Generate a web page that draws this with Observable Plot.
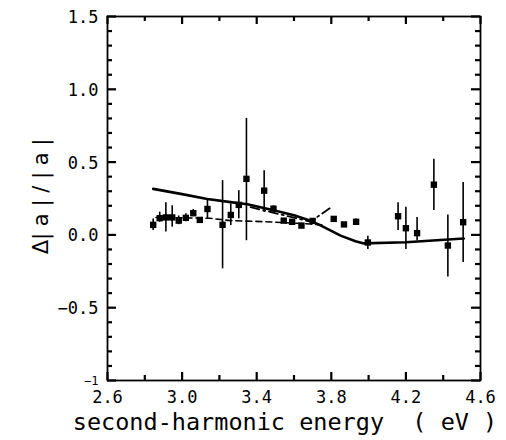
<!DOCTYPE html>
<html><head><meta charset="utf-8">
<script src="https://cdn.jsdelivr.net/npm/d3@7"></script>
<script src="https://cdn.jsdelivr.net/npm/@observablehq/plot@0.6"></script>
<style>body{margin:0;background:#fff} svg{display:block}</style>
</head><body><div id="chart"></div>
<script>
// Measured points with error bars
const energy  = [2.845, 2.88, 2.913, 2.947, 2.982, 3.02, 3.06, 3.095, 3.136, 3.217, 3.261, 3.304, 3.345, 3.44, 3.49, 3.545, 3.59, 3.64, 3.70, 3.813, 3.868, 3.933, 3.996, 4.158, 4.20, 4.26, 4.35, 4.425, 4.507];
const ratio   = [0.069, 0.115, 0.12, 0.12, 0.098, 0.117, 0.149, 0.103, 0.178, 0.069, 0.137, 0.206, 0.385, 0.304, 0.18, 0.098, 0.09, 0.064, 0.096, 0.11, 0.072, 0.09, -0.052, 0.128, 0.046, 0.012, 0.345, -0.073, 0.087];
const errLow  = [0.03, 0.087, 0.02, 0.053, 0.07, 0.09, 0.125, 0.085, 0.11, -0.233, 0.064, 0.11, -0.04, 0.156, 0.165, 0.085, 0.078, 0.052, 0.08, 0.098, 0.06, 0.065, -0.1, 0.03, -0.1, -0.04, 0.167, -0.29, -0.19];
const errHigh = [0.11, 0.156, 0.22, 0.20, 0.13, 0.145, 0.175, 0.12, 0.247, 0.373, 0.213, 0.304, 0.80, 0.44, 0.20, 0.11, 0.10, 0.076, 0.11, 0.122, 0.084, 0.11, -0.01, 0.22, 0.19, 0.12, 0.52, 0.137, 0.36];

// Model curves
const solidEnergy = [2.845, 3.0, 3.135, 3.26, 3.35, 3.49, 3.6, 3.688, 3.75, 3.85, 3.93, 3.97, 4.2, 4.51];
const solidRatio  = [0.316, 0.28, 0.247, 0.225, 0.21, 0.17, 0.135, 0.098, 0.06, -0.005, -0.043, -0.058, -0.05, -0.025];
const dashEnergy = [2.86, 3.15, 3.26, 3.44, 3.688, 3.76];
const dashRatio  = [0.12, 0.114, 0.098, 0.091, 0.075, 0.068];
const dashDotEnergy = [3.367, 3.688, 3.80];
const dashDotRatio  = [0.19, 0.091, 0.19];

// Axes
const xMajorTicks = [2.6, 3.0, 3.4, 3.8, 4.2, 4.6];
const xTickLabels = ["2.6", "3.0", "3.4", "3.8", "4.2", "4.6"];
const xMinorTicks = [2.8, 3.2, 3.6, 4.0, 4.4];
const yMajorTicks = [-1, -0.5, 0, 0.5, 1, 1.5];
const yTickLabels = ["\u22121", "\u22120.5", "0.0", "0.5", "1.0", "1.5"];
const yMinorTicks = [-0.9, -0.8, -0.7, -0.6, -0.4, -0.3, -0.2, -0.1, 0.1, 0.2, 0.3, 0.4, 0.6, 0.7, 0.8, 0.9, 1.1, 1.2, 1.3, 1.4];
const xTitle = "second-harmonic energy  ( eV )";
const yTitle = "\u0394| a | / | a |";

const points = energy.map((e, i) => ({e, r: ratio[i], lo: errLow[i], hi: errHigh[i]}));
const solid = solidEnergy.map((e, i) => ({e, r: solidRatio[i]}));
const dashed = dashEnergy.map((e, i) => ({e, r: dashRatio[i]}));
const dashDot = dashDotEnergy.map((e, i) => ({e, r: dashDotRatio[i]}));

const W = 506, H = 440, mL = 107, mR = 26, mT = 16, mB = 60;
const plotW = W - mL - mR, plotH = H - mT - mB;
const font = "'DejaVu Sans Mono', monospace";
const xLab = d => xTickLabels[xMajorTicks.indexOf(d)];
const yLab = d => yTickLabels[yMajorTicks.indexOf(d)];
const ink = "#000";

const chart = Plot.plot({
  width: W, height: H,
  marginLeft: mL, marginRight: mR, marginTop: mT, marginBottom: mB,
  x: {domain: [2.6, 4.6]},
  y: {domain: [-1, 1.5], axis: null},
  marks: [
    Plot.frame({stroke: ink, strokeWidth: 1.8}),
    // inward ticks: rules spanning the frame, inset so only a short stub remains
    Plot.ruleX(xMajorTicks, {x: d => d, stroke: ink, strokeWidth: 2.2, insetTop: plotH - 8}),
    Plot.ruleX(xMinorTicks, {x: d => d, stroke: ink, strokeWidth: 2.2, insetTop: plotH - 5}),
    Plot.ruleX(xMajorTicks, {x: d => d, stroke: ink, strokeWidth: 2.2, insetBottom: plotH - 8}),
    Plot.ruleX(xMinorTicks, {x: d => d, stroke: ink, strokeWidth: 2.2, insetBottom: plotH - 5}),
    Plot.ruleY(yMajorTicks, {y: d => d, stroke: ink, strokeWidth: 2.2, insetRight: plotW - 9}),
    Plot.ruleY(yMinorTicks, {y: d => d, stroke: ink, strokeWidth: 2.2, insetRight: plotW - 5}),
    Plot.ruleY(yMajorTicks, {y: d => d, stroke: ink, strokeWidth: 2.2, insetLeft: plotW - 9}),
    Plot.ruleY(yMinorTicks, {y: d => d, stroke: ink, strokeWidth: 2.2, insetLeft: plotW - 5}),
    // tick labels
    Plot.axisX(xMajorTicks, {anchor: "bottom", tickSize: 0, tickPadding: 10, tickFormat: xLab, label: null, fontSize: 17, fontFamily: font, fill: ink}),
    Plot.text(yMajorTicks, {y: d => d, text: yLab, frameAnchor: "left", textAnchor: "end", dx: -9, dy: 1,
      fontSize: d => (d === -1 ? 12 : 17), fontFamily: font, fill: ink}),
    // titles
    Plot.text([xTitle], {text: d => d, frameAnchor: "bottom", dy: 49, dx: -9, fontSize: 23.5, fontFamily: font, fill: ink}),
    Plot.text([yTitle], {text: d => d, frameAnchor: "left", textAnchor: "middle", rotate: -90, dx: -66, dy: -2, fontSize: 21, fontFamily: "'DejaVu Sans', sans-serif", fill: ink}),
    // curves
    Plot.line(solid, {x: "e", y: "r", stroke: ink, strokeWidth: 2.6}),
    Plot.line(dashed, {x: "e", y: "r", stroke: ink, strokeWidth: 1.6, strokeDasharray: "6,4"}),
    Plot.line(dashDot, {x: "e", y: "r", stroke: ink, strokeWidth: 1.8, strokeDasharray: "9,4,2,4"}),
    // data
    Plot.ruleX(points, {x: "e", y1: "lo", y2: "hi", stroke: ink, strokeWidth: 1.6}),
    Plot.dot(points, {x: "e", y: "r", symbol: "square", r: 3.6, fill: ink, stroke: null})
  ]
});
document.getElementById("chart").appendChild(chart);
</script>
</body></html>
